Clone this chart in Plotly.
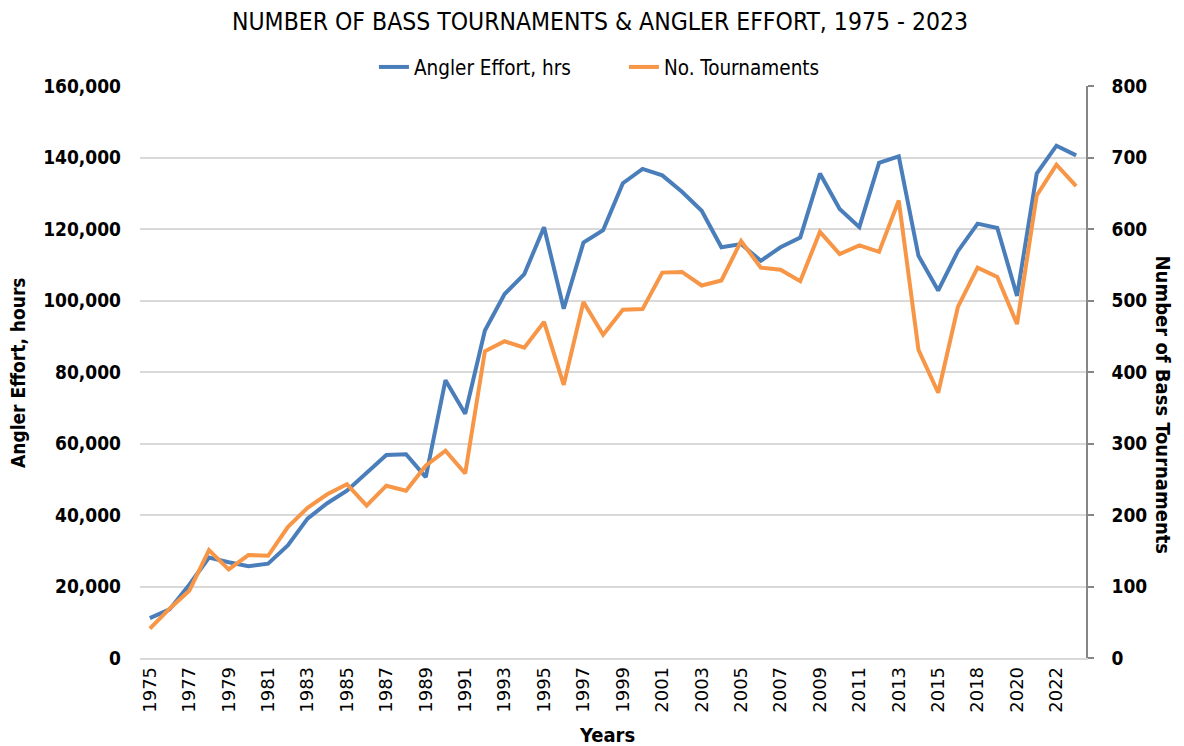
import plotly.graph_objects as go

years = ["1975","1976","1977","1978","1979","1980","1981","1982","1983","1984",
         "1985","1986","1987","1988","1989","1990","1991","1992","1993","1994",
         "1995","1996","1997","1998","1999","2000","2001","2002","2003","2004",
         "2005","2006","2007","2008","2009","2010","2011","2012","2013","2014",
         "2015","2016","2018","2019","2020","2021","2022","2023"]

angler_effort = [11150, 13600, 20500, 28100, 26800, 25700, 26400, 31500, 39000, 43300,
                 46800, 51900, 56800, 57000, 50600, 77700, 68300, 91600, 101800, 107400,
                 120500, 97700, 116200, 119700, 132800, 136800, 135000, 130400, 125100, 114900,
                 115800, 111100, 114900, 117600, 135500, 125600, 120500, 138500, 140300, 112500,
                 102800, 113800, 121500, 120300, 101300, 135500, 143300, 140600]

tournaments = [41, 69, 94, 151, 124, 144, 143, 183, 210, 229,
               243, 213, 241, 234, 269, 290, 258, 429, 443, 434,
               470, 382, 498, 452, 487, 488, 539, 540, 521, 528,
               583, 546, 543, 527, 596, 565, 577, 568, 640, 431,
               371, 491, 546, 533, 467, 647, 690, 660]

x_tick_labels = ["1975","1977","1979","1981","1983","1985","1987","1989","1991","1993",
                 "1995","1997","1999","2001","2003","2005","2007","2009","2011","2013",
                 "2015","2018","2020","2022"]

BLUE = "#4A7EBB"
ORANGE = "#F79646"
FONT = "DejaVu Sans Condensed"

fig = go.Figure()
fig.add_trace(go.Scatter(x=years, y=angler_effort, mode="lines", name="Angler Effort, hrs",
                         line=dict(color=BLUE, width=4)))
fig.add_trace(go.Scatter(x=years, y=tournaments, mode="lines", name="No. Tournaments",
                         line=dict(color=ORANGE, width=4), yaxis="y2"))

fig.update_layout(
    width=1176, height=738,
    margin=dict(l=132, r=98, t=78, b=88),
    paper_bgcolor="white", plot_bgcolor="white",
    font=dict(family=FONT, color="black"),
    showlegend=True,
    legend=dict(orientation="h", x=0.2473, y=1.033, xanchor="left", yanchor="middle",
                entrywidth=205, entrywidthmode="pixels",
                font=dict(size=20.5, family=FONT), bgcolor="rgba(0,0,0,0)"),
    xaxis=dict(type="category", categoryorder="array", categoryarray=years,
               range=[-0.5, len(years) - 0.5],
               tickmode="array", tickvals=x_tick_labels, ticktext=x_tick_labels,
               tickangle=-90, tickfont=dict(size=18, family="DejaVu Sans"),
               showgrid=False, showline=True, linecolor="#D9D9D9", linewidth=1.5,
               ticks="", zeroline=False),
    yaxis=dict(range=[0, 160000], dtick=20000, tickformat=",",
               tickfont=dict(size=19, family=FONT, weight="bold"),
               showgrid=True, gridcolor="#D9D9D9", gridwidth=1.5,
               showline=False, zeroline=False, ticks="", ticklabelstandoff=18),
    yaxis2=dict(range=[0, 800], dtick=100, overlaying="y", side="right",
                tickfont=dict(size=19, family=FONT, weight="bold"),
                showgrid=False, showline=True, linecolor="#868686", linewidth=1.5,
                ticks="outside", ticklen=6, tickcolor="#868686", tickwidth=1.5,
                zeroline=False, ticklabelstandoff=14),
    annotations=[
        dict(text="NUMBER OF BASS TOURNAMENTS &amp; ANGLER EFFORT, 1975 - 2023",
             xref="paper", yref="paper", x=0.486, y=1.112, showarrow=False,
             xanchor="center", yanchor="middle", font=dict(size=24.5, family=FONT)),
        dict(text="Angler Effort, hours", xref="paper", yref="paper", x=-0.129, y=0.5,
             showarrow=False, textangle=-90, xanchor="center", yanchor="middle",
             font=dict(size=19, family=FONT, weight="bold")),
        dict(text="Number of Bass Tournaments", xref="paper", yref="paper", x=1.081, y=0.442,
             showarrow=False, textangle=90, xanchor="center", yanchor="middle",
             font=dict(size=20, family=FONT, weight="bold")),
        dict(text="Years", xref="paper", yref="paper", x=0.4937, y=-0.1346,
             showarrow=False, xanchor="center", yanchor="middle",
             font=dict(size=20, family=FONT, weight="bold")),
    ],
)

fig.write_html("out.html")
